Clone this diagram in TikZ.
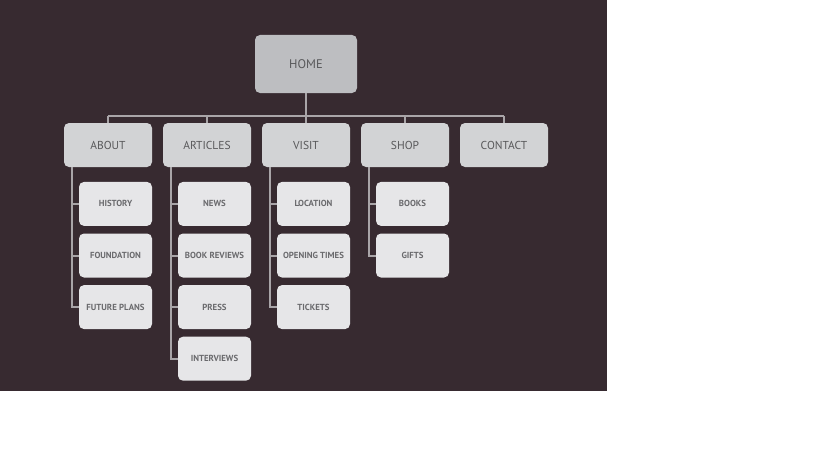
\documentclass[tikz,border=0pt]{standalone}
\usepackage{fontspec}
\setmainfont{PT Sans}
\usetikzlibrary{positioning}
\definecolor{bgdark}{HTML}{372A30}
\definecolor{linkgray}{HTML}{A9A5A8}
\definecolor{homefill}{HTML}{BDBEC1}
\definecolor{secfill}{HTML}{D2D3D5}
\definecolor{pagefill}{HTML}{E6E6E8}
\definecolor{textgray}{HTML}{58585A}
\definecolor{pagetext}{HTML}{6A6A6D}
\begin{document}
\begin{tikzpicture}[x=1pt, y=-1pt,
  home/.style={fill=homefill, rounded corners=5pt, minimum width=102pt, minimum height=58pt, font=\fontsize{12.5}{14}\selectfont, text=textgray},
  section/.style={fill=secfill, rounded corners=5pt, minimum width=88pt, minimum height=44pt, font=\fontsize{11.5}{13}\selectfont, text=textgray},
  page/.style={fill=pagefill, rounded corners=5pt, minimum width=73pt, minimum height=44pt, inner sep=1pt, font=\fontsize{8.8}{10}\selectfont\bfseries, text=pagetext},
  link/.style={draw=linkgray, line width=2pt},
]
\useasboundingbox (0,0) rectangle (819,460);
\fill[white] (0,0) rectangle (819,460);
\fill[bgdark] (0,0) rectangle (607,391);

\node[home] (home) at (306,64) {HOME};
\node[section] (about) at (108,145) {ABOUT};
\node[section] (articles) at (207,145) {ARTICLES};
\node[section] (visit) at (306,145) {VISIT};
\node[section] (shop) at (405,145) {SHOP};
\node[section] (contact) at (504,145) {CONTACT};

\node[page, below left=14.5pt and 0pt of about.south east] (history) {HISTORY};
\node[page, below=7.2pt of history] (foundation) {FOUNDATION};
\node[page, below=7.2pt of foundation] (future) {FUTURE PLANS};

\node[page, below left=14.5pt and 0pt of articles.south east] (news) {NEWS};
\node[page, below=7.2pt of news] (reviews) {BOOK REVIEWS};
\node[page, below=7.2pt of reviews] (press) {PRESS};
\node[page, below=7.2pt of press] (interviews) {INTERVIEWS};

\node[page, below left=14.5pt and 0pt of visit.south east] (location) {LOCATION};
\node[page, below=7.2pt of location] (opening) {OPENING TIMES};
\node[page, below=7.2pt of opening] (tickets) {TICKETS};

\node[page, below left=14.5pt and 0pt of shop.south east] (books) {BOOKS};
\node[page, below=7.2pt of books] (gifts) {GIFTS};

% top level
\draw[link] (home.south) -- ([yshift=7pt]visit.north);
\draw[link] ([yshift=7pt]about.north) -- ([yshift=7pt]contact.north);
\foreach \s in {about,articles,visit,shop,contact}
  \draw[link] (\s.north) -- ([yshift=7pt]\s.north);

% second level
\coordinate (aboutbar) at ([xshift=8pt]about.south west);
\coordinate (articlesbar) at ([xshift=8pt]articles.south west);
\coordinate (visitbar) at ([xshift=8pt]visit.south west);
\coordinate (shopbar) at ([xshift=8pt]shop.south west);
\draw[link] (aboutbar) |- (future.west);
\foreach \p in {history,foundation}
  \draw[link] (aboutbar |- \p.west) -- (\p.west);
\draw[link] (articlesbar) |- (interviews.west);
\foreach \p in {news,reviews,press}
  \draw[link] (articlesbar |- \p.west) -- (\p.west);
\draw[link] (visitbar) |- (tickets.west);
\foreach \p in {location,opening}
  \draw[link] (visitbar |- \p.west) -- (\p.west);
\draw[link] (shopbar) |- (gifts.west);
\draw[link] (shopbar |- books.west) -- (books.west);
\end{tikzpicture}
\end{document}
